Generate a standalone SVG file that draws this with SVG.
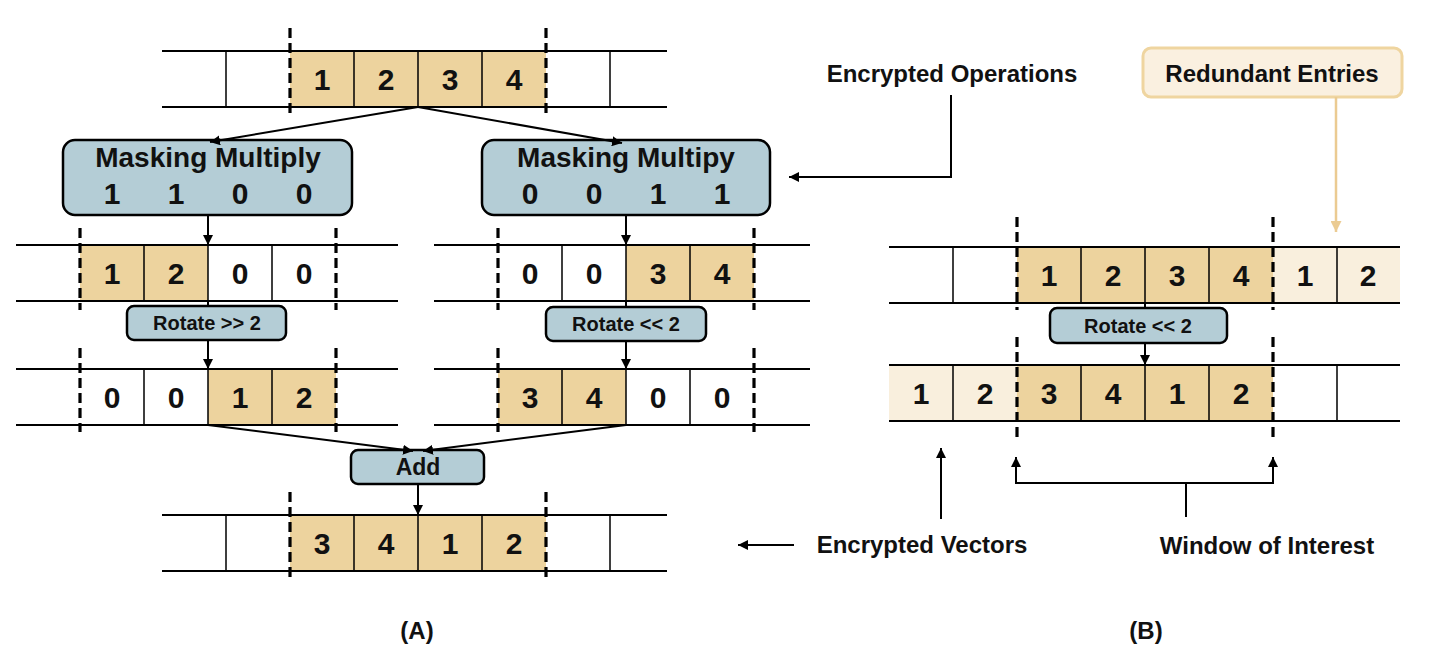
<svg xmlns="http://www.w3.org/2000/svg" width="1435" height="663" viewBox="0 0 1435 663">
<defs>
<marker id="ah" viewBox="0 0 10 10" refX="10" refY="5" markerWidth="10" markerHeight="10" markerUnits="userSpaceOnUse" orient="auto"><path d="M0,0 L10,5 L0,10 z" fill="#000"/></marker>
<marker id="aht" viewBox="0 0 10 10" refX="10" refY="5" markerWidth="11" markerHeight="11" markerUnits="userSpaceOnUse" orient="auto"><path d="M0,0 L10,5 L0,10 z" fill="#EBCB92"/></marker>
</defs>
<style>
text{font-family:"Liberation Sans",Arial,sans-serif;font-weight:700;fill:#111;text-anchor:middle}
.hl{stroke:#000;stroke-width:2;fill:none}
.vl{stroke:#000;stroke-width:1.5;fill:none}
.dl{stroke:#000;stroke-width:3.2;stroke-dasharray:10,5;fill:none}
.tan{fill:#EDD39E}
.lt{fill:#F9EFDD}
.op{fill:#B4CDD6;stroke:#000;stroke-width:2.5}
.num{font-size:30px}
.big{font-size:28px}
.rot{font-size:20px}
.add{font-size:23px}
.lab{font-size:24px}
.cap{font-size:24px}
.con{stroke:#000;stroke-width:2;fill:none}
</style>

<g id="vecA1">
<rect class="tan" x="290" y="51" width="256" height="56"/>
<path class="hl" d="M162,51H667M162,107H667"/>
<path class="vl" d="M226,51V107M354,51V107M418,51V107M482,51V107M610,51V107"/>
<path class="dl" d="M290,28V113M546,28V113"/>
<text class="num" x="322" y="90">1</text><text class="num" x="386" y="90">2</text><text class="num" x="450" y="90">3</text><text class="num" x="514" y="90">4</text>
</g>

<g id="maskL">
<rect class="op" x="63" y="140" width="289" height="75" rx="12"/>
<text class="big" x="208" y="167">Masking Multiply</text>
<text class="num" x="112" y="204">1</text><text class="num" x="176" y="204">1</text><text class="num" x="240" y="204">0</text><text class="num" x="304" y="204">0</text>
</g>

<g id="maskR">
<rect class="op" x="482" y="140" width="288" height="75" rx="12"/>
<text class="big" x="626" y="167">Masking Multipy</text>
<text class="num" x="530" y="204">0</text><text class="num" x="594" y="204">0</text><text class="num" x="658" y="204">1</text><text class="num" x="722" y="204">1</text>
</g>

<g id="vecL2">
<rect class="tan" x="80" y="245" width="128" height="56"/>
<path class="hl" d="M16,245H398M16,301H398"/>
<path class="vl" d="M144,245V301M208,245V301M272,245V301"/>
<path class="dl" d="M80,228V310M336,228V310"/>
<text class="num" x="112" y="284">1</text><text class="num" x="176" y="284">2</text><text class="num" x="240" y="284">0</text><text class="num" x="304" y="284">0</text>
</g>

<g id="vecR2">
<rect class="tan" x="626" y="245" width="128" height="56"/>
<path class="hl" d="M434,245H810M434,301H810"/>
<path class="vl" d="M562,245V301M626,245V301M690,245V301"/>
<path class="dl" d="M498,228V310M754,228V310"/>
<text class="num" x="530" y="284">0</text><text class="num" x="594" y="284">0</text><text class="num" x="658" y="284">3</text><text class="num" x="722" y="284">4</text>
</g>

<g id="rotL">
<rect class="op" x="127" y="306" width="159" height="34" rx="7"/>
<text class="rot" x="207" y="330">Rotate &gt;&gt; 2</text>
</g>

<g id="rotR">
<rect class="op" x="546" y="307" width="160" height="34" rx="7"/>
<text class="rot" x="626" y="331">Rotate &lt;&lt; 2</text>
</g>

<g id="vecL3">
<rect class="tan" x="208" y="369" width="128" height="56"/>
<path class="hl" d="M16,369H398M16,425H398"/>
<path class="vl" d="M144,369V425M208,369V425M272,369V425"/>
<path class="dl" d="M80,348V432M336,348V432"/>
<text class="num" x="112" y="408">0</text><text class="num" x="176" y="408">0</text><text class="num" x="240" y="408">1</text><text class="num" x="304" y="408">2</text>
</g>

<g id="vecR3">
<rect class="tan" x="498" y="369" width="128" height="56"/>
<path class="hl" d="M434,369H810M434,425H810"/>
<path class="vl" d="M562,369V425M626,369V425M690,369V425"/>
<path class="dl" d="M498,348V432M754,348V432"/>
<text class="num" x="530" y="408">3</text><text class="num" x="594" y="408">4</text><text class="num" x="658" y="408">0</text><text class="num" x="722" y="408">0</text>
</g>

<g id="add">
<rect class="op" x="351" y="450" width="133" height="34" rx="7"/>
<text class="add" x="418" y="475">Add</text>
</g>

<g id="vecA4">
<rect class="tan" x="290" y="515" width="256" height="56"/>
<path class="hl" d="M162,515H667M162,571H667"/>
<path class="vl" d="M226,515V571M354,515V571M418,515V571M482,515V571M610,515V571"/>
<path class="dl" d="M290,492V578M546,492V578"/>
<text class="num" x="322" y="554">3</text><text class="num" x="386" y="554">4</text><text class="num" x="450" y="554">1</text><text class="num" x="514" y="554">2</text>
</g>

<g id="vecB1">
<rect class="tan" x="1017" y="247" width="256" height="56"/>
<rect class="lt" x="1273" y="247" width="127" height="56"/>
<path class="hl" d="M889,247H1400M889,303H1400"/>
<path class="vl" d="M953,247V303M1081,247V303M1145,247V303M1209,247V303M1337,247V303"/>
<path class="dl" d="M1017,217V310M1273,217V310"/>
<text class="num" x="1049" y="286">1</text><text class="num" x="1113" y="286">2</text><text class="num" x="1177" y="286">3</text><text class="num" x="1241" y="286">4</text><text class="num" x="1305" y="286">1</text><text class="num" x="1368" y="286">2</text>
</g>

<g id="rotB">
<rect class="op" x="1050" y="308" width="177" height="35" rx="7"/>
<text class="rot" x="1138" y="333">Rotate &lt;&lt; 2</text>
</g>

<g id="vecB2">
<rect class="lt" x="889" y="365" width="128" height="56"/>
<rect class="tan" x="1017" y="365" width="256" height="56"/>
<path class="hl" d="M889,365H1400M889,421H1400"/>
<path class="vl" d="M953,365V421M1081,365V421M1145,365V421M1209,365V421M1337,365V421"/>
<path class="dl" d="M1017,337V440M1273,337V440"/>
<text class="num" x="921" y="404">1</text><text class="num" x="985" y="404">2</text><text class="num" x="1049" y="404">3</text><text class="num" x="1113" y="404">4</text><text class="num" x="1177" y="404">1</text><text class="num" x="1241" y="404">2</text>
</g>

<g id="labelEncOps"><text class="lab" x="952" y="82">Encrypted Operations</text></g>
<g id="labelRedundant">
<rect x="1143" y="48" width="259" height="49" rx="8" fill="#FAF0E0" stroke="#EFD5A0" stroke-width="3"/>
<text class="lab" x="1272" y="82">Redundant Entries</text>
</g>
<g id="labelEncVec"><text class="lab" x="922" y="553">Encrypted Vectors</text></g>
<g id="labelWindow"><text class="lab" x="1267" y="554">Window of Interest</text></g>
<g id="captions">
<text class="cap" x="417" y="639">(A)</text>
<text class="cap" x="1146" y="639">(B)</text>
</g>

<g id="connectors">
<path class="con" d="M418,107L210,142" marker-end="url(#ah)"/>
<path class="con" d="M418,107L622,143" marker-end="url(#ah)"/>
<path class="con" d="M208,215V245" marker-end="url(#ah)"/>
<path class="con" d="M626,215V245" marker-end="url(#ah)"/>
<path class="con" d="M208,301V306"/>
<path class="con" d="M626,301V307"/>
<path class="con" d="M208,340V369" marker-end="url(#ah)"/>
<path class="con" d="M626,341V369" marker-end="url(#ah)"/>
<path class="con" d="M208,425L413,451" marker-end="url(#ah)"/>
<path class="con" d="M626,425L423,451" marker-end="url(#ah)"/>
<path class="con" d="M418,484V515" marker-end="url(#ah)"/>
<path class="con" d="M1145,303V308"/>
<path class="con" d="M1145,343V365" marker-end="url(#ah)"/>
<path class="con" d="M951,95V177H789" marker-end="url(#ah)"/>
<path d="M1336,97V232" stroke="#EBCB92" stroke-width="2.5" fill="none" marker-end="url(#aht)"/>
<path class="con" d="M794,545H738" marker-end="url(#ah)"/>
<path class="con" d="M941,519V448" marker-end="url(#ah)"/>
<path class="con" d="M1186,517V483M1016,457V483H1273V457"/>
<path class="con" d="M1016,470V457" marker-end="url(#ah)"/>
<path class="con" d="M1273,470V457" marker-end="url(#ah)"/>
</g>
</svg>
